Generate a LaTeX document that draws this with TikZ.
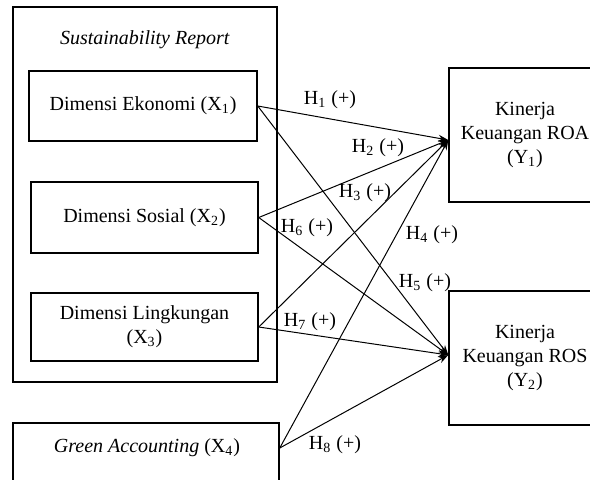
\documentclass[tikz,border=0pt]{standalone}
\usepackage{fontspec}
\setmainfont{Liberation Serif}
\usetikzlibrary{arrows.meta}

\begin{document}
\begin{tikzpicture}[x=0.5pt,y=-0.5pt,
    box/.style={draw,line width=0.75pt,align=center,inner sep=0pt},
    hyp/.style={-{Stealth[length=5pt,width=3.5pt]},line width=0.5pt}]
  \useasboundingbox (0,0) rectangle (590,479);
  \clip (0,0) rectangle (590,479);

  % sustainability report group
  \node[box,minimum width=132pt,minimum height=187.5pt] (sr) at (145,194.5) {};
  \node (srtitle) at (145,40) {\textit{Sustainability Report}};
  \node[box,minimum width=114pt,minimum height=35pt] (x1) at (143,106) {Dimensi Ekonomi (X\textsubscript{1})};
  \node[box,minimum width=113.5pt,minimum height=35.5pt] (x2) at (144.5,217.5) {Dimensi Sosial (X\textsubscript{2})};
  \node[box,minimum width=113.5pt,minimum height=34pt] (x3) at (144.5,327) {Dimensi Lingkungan\\(X\textsubscript{3})};

  % green accounting
  \node[box,minimum width=133pt,minimum height=48.5pt] (x4) at (146,471.5) {};
  \node (x4txt) at (147,448) {\textit{Green Accounting} (X\textsubscript{4})};

  % dependent variables
  \node[box,minimum width=76pt,minimum height=67pt] (roa) at (525,135) {Kinerja\\Keuangan ROA\\(Y\textsubscript{1})};
  \node[box,minimum width=76pt,minimum height=67pt] (ros) at (525,358) {Kinerja\\Keuangan ROS\\(Y\textsubscript{2})};

  \coordinate (x4out) at (x4txt -| x4.east);
  \coordinate (roain) at ([yshift=-2.5pt]roa.west);
  \coordinate (rosin) at ([yshift=1.5pt]ros.west);

  \draw[hyp] (x1.east) -- (roain);
  \draw[hyp] (x2.east) -- (roain);
  \draw[hyp] (x3.east) -- (roain);
  \draw[hyp] (x4out) -- (roain);
  \draw[hyp] (x1.east) -- (rosin);
  \draw[hyp] (x2.east) -- (rosin);
  \draw[hyp] (x3.east) -- (rosin);
  \draw[hyp] (x4out) -- (rosin);

  % hypothesis labels
  \node (h1) at (330,100) {H\textsubscript{1} (+)};
  \node (h2) at (378,148) {H\textsubscript{2} (+)};
  \node (h3) at (365,193) {H\textsubscript{3} (+)};
  \node (h4) at (432,235) {H\textsubscript{4} (+)};
  \node (h5) at (425,283) {H\textsubscript{5} (+)};
  \node (h6) at (307,228) {H\textsubscript{6} (+)};
  \node (h7) at (310,322) {H\textsubscript{7} (+)};
  \node (h8) at (335,445) {H\textsubscript{8} (+)};
\end{tikzpicture}
\end{document}
